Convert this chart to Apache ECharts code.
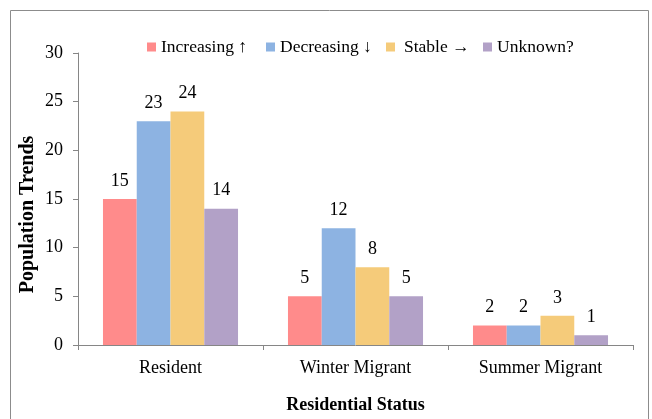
<!DOCTYPE html>
<html><head><meta charset="utf-8">
<script src="https://cdn.jsdelivr.net/npm/echarts@6/dist/echarts.min.js"></script>
<style>html,body{margin:0;padding:0;background:#fff}#c{width:652px;height:419px}</style>
</head><body><div id="c"></div>
<script>
const categories = ['Resident', 'Winter Migrant', 'Summer Migrant'];
const increasing = [15, 5, 2];
const decreasing = [23, 12, 2];
const stable = [24, 8, 3];
const unknown = [14, 5, 1];
const seriesNames = ['Increasing ↑', 'Decreasing ↓', 'Stable →', 'Unknown?'];
const colors = ['#FF8B8B', '#8DB3E2', '#F5CB7A', '#B2A1C7'];
const font = '"Liberation Serif", "Times New Roman", serif';

const chart = echarts.init(document.getElementById('c'));
const mk = (name, data, color) => ({
  name, type: 'bar', data, barGap: '0%', barCategoryGap: '27%',
  itemStyle: { color },
  label: { show: true, position: 'top', distance: 9, color: '#000', fontFamily: font, fontSize: 18 }
});
const legendLefts = [147, 266, 386, 483];
const legendPad = [0, 0, 4, 0];
chart.setOption({
  animation: false,
  textStyle: { fontFamily: font },
  graphic: [{ type: 'rect', shape: { x: 10.5, y: 10.5, width: 638, height: 420 }, style: { fill: 'none', stroke: '#8c8c8c', lineWidth: 1 } }],
  legend: seriesNames.map((n, i) => ({
    top: 38, left: legendLefts[i], itemWidth: 9, itemHeight: 9, icon: 'rect', padding: 0,
    textStyle: { fontFamily: font, fontSize: 17.5, color: '#000', padding: [0, 0, 0, legendPad[i]] },
    data: [n]
  })),
  grid: { left: 78, top: 53, right: 19, bottom: 69 },
  xAxis: {
    type: 'category', data: categories,
    name: 'Residential Status', nameLocation: 'middle', nameGap: 51,
    nameTextStyle: { fontFamily: font, fontSize: 18, fontWeight: 'bold', color: '#000' },
    axisLine: { lineStyle: { color: '#868686' } },
    axisTick: { show: true, length: 5, lineStyle: { color: '#868686' } },
    axisLabel: { color: '#000', fontFamily: font, fontSize: 18, margin: 14 }
  },
  yAxis: {
    type: 'value', min: 0, max: 30, interval: 5,
    name: 'Population Trends', nameLocation: 'middle', nameGap: 40, nameMoveOverlap: false,
    nameTextStyle: { fontFamily: font, fontSize: 20, fontWeight: 'bold', color: '#000', padding: [0, 31, 0, 0] },
    splitLine: { show: false },
    axisLine: { show: true, lineStyle: { color: '#868686' } },
    axisTick: { show: true, length: 5, lineStyle: { color: '#868686' } },
    axisLabel: { color: '#000', fontFamily: font, fontSize: 18, margin: 15 }
  },
  series: [
    mk(seriesNames[0], increasing, colors[0]),
    mk(seriesNames[1], decreasing, colors[1]),
    mk(seriesNames[2], stable, colors[2]),
    mk(seriesNames[3], unknown, colors[3])
  ]
});
</script></body></html>
